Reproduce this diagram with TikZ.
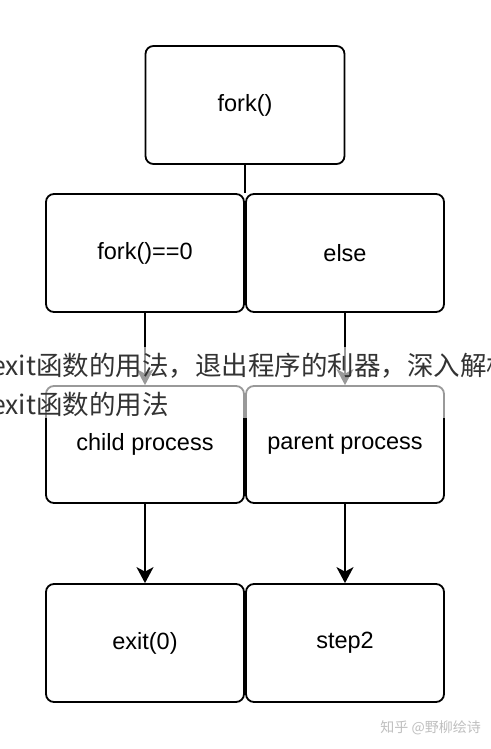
\documentclass[tikz,border=0pt]{standalone}
\usepackage{fontspec}
\setmainfont{Liberation Sans}
\newfontfamily\cjk{Noto Sans CJK SC}
\usetikzlibrary{arrows.meta}
\begin{document}
\begin{tikzpicture}[x=1pt,y=1pt,
  box/.style={draw, line width=1.8pt, rounded corners=8pt, minimum width=198pt,
    minimum height=118pt, inner sep=0pt, font=\fontsize{23.5}{27}\selectfont},
  arr/.style={line width=1.8pt, -{Stealth[length=16pt,width=17pt,inset=4.5pt]}},
  link/.style={line width=1.8pt},
  overlaytext/.style={anchor=base west, inner sep=0pt, text=black!80,
    font=\cjk\fontsize{26.5}{27}\selectfont},
  wmark/.style={anchor=base east, inner sep=0pt, text=black!25,
    font=\cjk\fontsize{14}{15}\selectfont}]
\fill[white] (0,0) rectangle (490,-749);
\useasboundingbox (0,0) rectangle (490,-749);
\node[box, minimum width=199pt] (fork) at (245,-105) {fork()};
\node[box] (f0) at (145,-253) {fork()==0};
\node[box] (else) at (345,-253) {else};
\node[box, minimum height=117pt] (child) at (145,-444.5) {child process};
\node[box, minimum height=117pt] (parent) at (345,-444.5) {parent process};
\node[box] (exit) at (145,-643) {exit(0)};
\node[box] (step) at (345,-643) {step2};
\coordinate (j) at (fork.south |- f0.north);
\draw[link] (fork.south) -- (j);
\draw[arr] (f0.south) -- (child.north);
\draw[arr] (else.south) -- (parent.north);
\draw[arr] (child.south) -- (exit.north);
\draw[arr] (parent.south) -- (step.north);
\fill[white, opacity=0.6] (0,-347) rectangle (490,-418);
\node[overlaytext] (t1) at (-9,-375) {exit函数的用法，退出程序的利器，深入解析};
\node[overlaytext] (t2) at (-9,-414) {exit函数的用法};
\node[wmark] (wm) at (481,-732) {知乎 @野柳绘诗};
\end{tikzpicture}
\end{document}
